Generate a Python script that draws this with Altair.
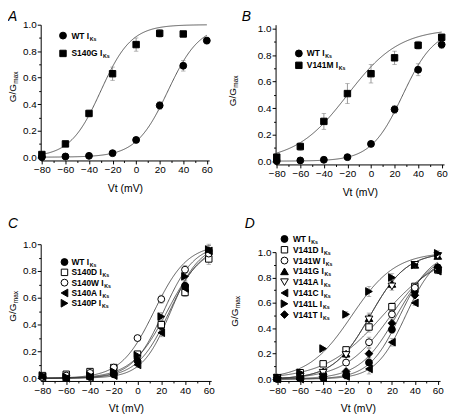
import altair as alt
import pandas as pd

FONT = "Liberation Sans"

# ---------------- data ----------------
V = [-80, -60, -40, -20, 0, 20, 40, 60]

# Panel A
A_WT = [0.0, 0.005, 0.01, 0.03, 0.13, 0.39, 0.69, 0.88]
A_WT_ERR = [0.005, 0.005, 0.005, 0.01, 0.015, 0.03, 0.04, 0.025]
A_S140G_V = [-80, -60, -40, -20, 0, 20, 40]
A_S140G = [0.02, 0.10, 0.33, 0.63, 0.85, 0.935, 0.93]
A_S140G_ERR = [0.01, 0.01, 0.025, 0.05, 0.05, 0.03, 0.01]
A_FIT_NAMES = ["WT", "S140G"]
A_FIT_VHALF = [27, -30]
A_FIT_K = [13.5, 13]

# Panel B
B_WT = [0.0, 0.005, 0.01, 0.03, 0.13, 0.39, 0.69, 0.88]
B_WT_ERR = [0.005, 0.005, 0.005, 0.01, 0.015, 0.03, 0.045, 0.03]
B_V141M = [0.03, 0.11, 0.30, 0.51, 0.66, 0.78, 0.875, 0.935]
B_V141M_ERR = [0.01, 0.03, 0.06, 0.075, 0.07, 0.05, 0.03, 0.02]
B_FIT_NAMES = ["WT", "V141M"]
B_FIT_VHALF = [27, -20]
B_FIT_K = [13.5, 22]

# Panel C
C_WT = [0.01, 0.005, 0.01, 0.03, 0.13, 0.39, 0.69, 0.95]
C_S140D = [0.02, 0.03, 0.05, 0.08, 0.18, 0.40, 0.64, 0.89]
C_S140W = [0.01, 0.02, 0.04, 0.08, 0.30, 0.59, 0.81, 0.93]
C_S140A = [0.01, 0.0, 0.01, 0.02, 0.10, 0.34, 0.67, 0.95]
C_S140P = [0.02, 0.01, 0.02, 0.05, 0.17, 0.46, 0.76, 0.96]
C_ERR = [0.01, 0.01, 0.01, 0.015, 0.02, 0.03, 0.03, 0.04]
C_FIT_NAMES = ["WT", "S140D", "S140W", "S140A", "S140P"]
C_FIT_VHALF = [27, 25, 14, 28, 22]
C_FIT_K = [13.5, 15, 14, 12, 13]

# Panel D
D_WT = [0.0, 0.005, 0.01, 0.03, 0.13, 0.39, 0.69, 0.88]
D_V141D = [0.01, 0.05, 0.12, 0.23, 0.41, 0.57, 0.73, 0.86]
D_V141W = [0.01, 0.02, 0.04, 0.13, 0.29, 0.51, 0.72, 0.86]
D_V141G = [0.01, 0.02, 0.06, 0.20, 0.48, 0.75, 0.90, 0.97]
D_V141A = [0.01, 0.02, 0.05, 0.19, 0.47, 0.73, 0.90, 0.97]
D_V141C = [0.0, 0.0, 0.01, 0.02, 0.08, 0.29, 0.60, 0.85]
D_V141L = [0.01, 0.05, 0.24, 0.51, 0.69, 0.80, 0.90, 0.99]
D_V141T = [0.01, 0.01, 0.02, 0.06, 0.20, 0.44, 0.66, 0.88]
D_ERR = [0.005, 0.005, 0.01, 0.02, 0.04, 0.03, 0.02, 0.02]
D_FIT_NAMES = ["WT", "V141D", "V141W", "V141G", "V141A", "V141C", "V141L", "V141T"]
D_FIT_VHALF = [27, 12, 19, 1, 1, 32, -15, 24]
D_FIT_K = [13.5, 25, 20, 16, 16, 13, 19, 16]

STYLE = {
    "WT": ("circle", "black"),
    "S140G": ("square", "black"),
    "V141M": ("square", "black"),
    "S140D": ("square", "white"),
    "S140W": ("circle", "white"),
    "S140A": ("triangle-left", "black"),
    "S140P": ("triangle-right", "black"),
    "V141D": ("square", "white"),
    "V141W": ("circle", "white"),
    "V141G": ("triangle-up", "black"),
    "V141A": ("triangle-down", "white"),
    "V141C": ("triangle-left", "black"),
    "V141L": ("triangle-right", "black"),
    "V141T": ("diamond", "black"),
}
SIZES = {"circle": 48, "square": 42, "diamond": 60}

BOLD_W = {"W": .944, "T": .611, " ": .278, "I": .278, "S": .667, "1": .556, "4": .556,
          "0": .556, "G": .778, "V": .667, "M": .833, "D": .722, "A": .722, "P": .667,
          "C": .722, "L": .611}


def text_w(s, fs):
    return sum(BOLD_W.get(c, .6) for c in s) * fs


def one():
    return pd.DataFrame({"k": [0]})


def panel(letter, series, fits, leg, W, H, xdom, ydom, letter_pos, ytitle_pos):
    names = [s[0] for s in series]
    rows = []
    for name, xs, ys, es in series:
        shape, fill = STYLE[name]
        for v, g, e in zip(xs, ys, es):
            rows.append(dict(series=name, v=v, g=g, lo=g - e, hi=g + e, e=e,
                             shp=shape, fc=fill, sz=SIZES.get(shape, 60)))
    df = pd.DataFrame(rows)
    xsc = alt.Scale(domain=xdom, nice=False, zero=False)
    ysc = alt.Scale(domain=ydom, nice=False, zero=False)
    xax = alt.Axis(values=list(range(-80, 61, 10)),
                   labelExpr="datum.value % 20 == 0 ? datum.label : ''",
                   tickSize={"condition": {"test": "datum.value % 20 != 0", "value": 2}, "value": 3.5},
                   title="Vt (mV)", grid=False, labelFontSize=10, titleFontSize=10.5,
                   titleFontWeight="normal", labelPadding=1, titlePadding=8.5,
                   domainColor="black", tickColor="black", labelColor="black",
                   titleColor="black", labelFont=FONT, titleFont=FONT, labelFlush=False,
                   labelOverlap=False)
    yax = alt.Axis(values=[0, 0.1, 0.2, 0.3, 0.4, 0.5, 0.6, 0.7, 0.8, 0.9, 1.0],
                   labelExpr="round(datum.value*10) % 2 == 0 ? format(datum.value, '.1f') : ''",
                   tickSize={"condition": {"test": "round(datum.value*10) % 2 != 0", "value": 2}, "value": 3.5},
                   title=None, grid=False, labelFontSize=10, labelPadding=1,
                   domainColor="black", tickColor="black", labelColor="black",
                   labelFont=FONT, labelFlush=False, labelOverlap=False)

    def X(f="v"):
        return alt.X(f"{f}:Q", scale=xsc, axis=xax)

    def Y(f="g"):
        return alt.Y(f"{f}:Q", scale=ysc, axis=yax)

    fdf = pd.DataFrame({"series": fits[0], "vh": fits[1], "k": fits[2]})
    curves = alt.Chart(fdf).transform_calculate(
        v="sequence(-80, 60.5, 0.5)"
    ).transform_flatten(["v"]).transform_calculate(
        g="1/(1+exp((datum.vh - datum.v)/datum.k))"
    ).mark_line(color="#333", strokeWidth=0.8).encode(x=X(), y=Y(), detail="series:N")

    base = alt.Chart(df)
    eb = base.transform_filter("datum.e > 0.012")
    ebar = eb.mark_rule(color="#808080", strokeWidth=0.8).encode(x=X(), y=Y("lo"), y2="hi:Q")
    capt = eb.mark_tick(orient="horizontal", size=4.5, thickness=0.8, color="#808080").encode(
        x=X(), y=Y("hi"))
    capb = eb.mark_tick(orient="horizontal", size=4.5, thickness=0.8, color="#808080").encode(
        x=X(), y=Y("lo"))
    pts = base.mark_point(filled=True, stroke="black", strokeWidth=1, opacity=1).encode(
        x=X(), y=Y(),
        shape=alt.Shape("shp:N", scale=None),
        fill=alt.Fill("fc:N", scale=None),
        size=alt.Size("sz:Q", scale=None),
    )

    sx, sy, dy, tx, fs = leg
    ldf = pd.DataFrame({
        "series": names,
        "i": list(range(len(names))),
        "main": [n + " I" for n in names],
        "subx": [tx + text_w(n + " I", fs) + 0.6 for n in names],
        "shp": [STYLE[n][0] for n in names],
        "fc": [STYLE[n][1] for n in names],
        "sz": [SIZES.get(STYLE[n][0], 60) for n in names],
    })
    lb = alt.Chart(ldf).transform_calculate(ly=f"{sy} + datum.i * {dy}")
    lsym = lb.mark_point(filled=True, stroke="black", strokeWidth=1, opacity=1).encode(
        x=alt.value(sx), y=alt.Y("ly:Q", scale=None),
        shape=alt.Shape("shp:N", scale=None),
        fill=alt.Fill("fc:N", scale=None),
        size=alt.Size("sz:Q", scale=None),
    )
    ltxt = lb.mark_text(font=FONT, fontSize=fs, fontWeight="bold", align="left",
                        baseline="middle", color="black").encode(
        x=alt.value(tx), y=alt.Y("ly:Q", scale=None), text="main:N")
    lsub = lb.transform_calculate(ly2="datum.ly + 3").mark_text(
        font=FONT, fontSize=fs * 0.62, fontWeight="bold", align="left",
        baseline="middle", color="black").encode(
        x=alt.X("subx:Q", scale=None), y=alt.Y("ly2:Q", scale=None), text=alt.value("Ks"))

    lx, ly = letter_pos
    let = alt.Chart(one()).mark_text(text=letter, font=FONT, fontSize=14, fontStyle="italic",
                                     align="left", baseline="top", color="black").encode(
        x=alt.value(lx), y=alt.value(ly))
    tx0, ty0 = ytitle_pos
    yt1 = alt.Chart(one()).mark_text(text="G/G", font=FONT, fontSize=10, angle=270,
                                     align="right", baseline="middle", color="black").encode(
        x=alt.value(tx0), y=alt.value(ty0))
    yt2 = alt.Chart(one()).mark_text(text="max", font=FONT, fontSize=6.5, angle=270,
                                     align="left", baseline="middle", color="black").encode(
        x=alt.value(tx0 + 3), y=alt.value(ty0 - 0.5))

    return alt.layer(curves, ebar, capt, capb, pts, lsym, ltxt, lsub, let, yt1, yt2).properties(
        width=W, height=H)


pA = panel("A",
           [("WT", V, A_WT, A_WT_ERR), ("S140G", A_S140G_V, A_S140G, A_S140G_ERR)],
           (A_FIT_NAMES, A_FIT_VHALF, A_FIT_K),
           (22.5, 11, 18, 31, 8.5), 170, 137, [-81, 62], [-0.025, 1.0], (-33, -15), (-28, 60))
pB = panel("B",
           [("WT", V, B_WT, B_WT_ERR), ("V141M", V, B_V141M, B_V141M_ERR)],
           (B_FIT_NAMES, B_FIT_VHALF, B_FIT_K),
           (23.5, 29, 12, 31.5, 8.5), 170, 141, [-81, 62], [-0.025, 1.03], (-34, -15), (-43, 64))
pC = panel("C",
           [("WT", V, C_WT, C_ERR), ("S140D", V, C_S140D, C_ERR), ("S140W", V, C_S140W, C_ERR),
            ("S140A", V, C_S140A, C_ERR), ("S140P", V, C_S140P, C_ERR)],
           (C_FIT_NAMES, C_FIT_VHALF, C_FIT_K),
           (24, 18, 10.4, 31, 8.5), 172, 138, [-81.5, 62], [-0.02, 1.0], (-33, -27), (-28, 60))
pD = panel("D",
           [("WT", V, D_WT, D_ERR), ("V141D", V, D_V141D, D_ERR), ("V141W", V, D_V141W, D_ERR),
            ("V141G", V, D_V141G, D_ERR), ("V141A", V, D_V141A, D_ERR), ("V141C", V, D_V141C, D_ERR),
            ("V141L", V, D_V141L, D_ERR), ("V141T", V, D_V141T, D_ERR)],
           (D_FIT_NAMES, D_FIT_VHALF, D_FIT_K),
           (9, -13.3, 10.9, 17.5, 8.5), 166, 130, [-81.5, 62], [-0.015, 1.0], (-31, -35), (-41, 57))

chart = alt.hconcat(
    alt.vconcat(pA, pC, spacing=23.5),
    alt.vconcat(pB, pD, spacing=19.5),
    spacing=13,
).properties(padding=0, background="white").configure_view(stroke=None).configure_axis(
    labelOverlap=False)

chart.save("out.html", embed_options={"renderer": "svg", "actions": False})
